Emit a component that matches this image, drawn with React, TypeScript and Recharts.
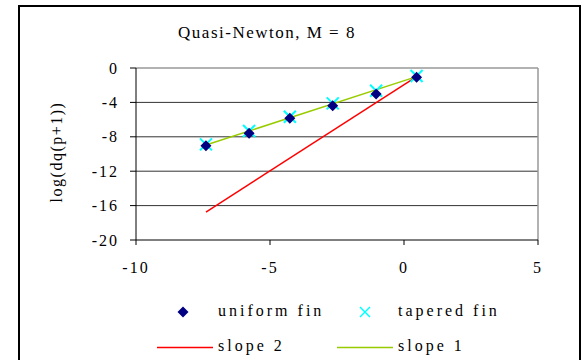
import React from 'react'
import { ComposedChart, Scatter, XAxis, YAxis, ReferenceLine } from 'recharts'

const xTicks = [-10, -5, 0, 5]
const yTicks = [0, -4, -8, -12, -16, -20]
const gridLevels = [-4, -8, -12, -16]

const xValues = [-7.39, -5.78, -4.26, -2.66, -1.04, 0.47]
const uniformFin = [-9.03, -7.6, -5.85, -4.38, -3.02, -1.08]
const taperedFin = [-8.88, -7.33, -5.66, -4.11, -2.64, -0.93]

const slope1X = [-7.39, 0.47]
const slope1Y = [-8.95, -1.0]
const slope2X = [-7.39, 0.47]
const slope2Y = [-16.75, -1.0]

const FONT = 'Liberation Serif'

const toPoints = (xs: number[], ys: number[]) => xs.map((x, i) => ({ x, y: ys[i] }))

const uniformData = toPoints(xValues, uniformFin)
const taperedData = toPoints(xValues, taperedFin)
const slope1Data = toPoints(slope1X, slope1Y)
const slope2Data = toPoints(slope2X, slope2Y)

const Diamond = ({ cx, cy }: any) => {
  if (cx == null || cy == null) return <g />
  const r = 5.5
  return <polygon points={`${cx},${cy - r} ${cx + r},${cy} ${cx},${cy + r} ${cx - r},${cy}`} fill='#000080' />
}

const Cross = ({ cx, cy }: any) => {
  if (cx == null || cy == null) return <g />
  const r = 6
  return (
    <g stroke='#00ffff' strokeWidth={2}>
      <line x1={cx - r} y1={cy - r} x2={cx + r} y2={cy + r} />
      <line x1={cx - r} y1={cy + r} x2={cx + r} y2={cy - r} />
    </g>
  )
}

const NoDot = () => <g />

const YLabel = ({ viewBox }: any) => {
  const cx = 58
  const cy = viewBox.y + viewBox.height / 2 - 2
  return (
    <text x={cx} y={cy} transform={`rotate(-90 ${cx} ${cy})`} textAnchor='middle' dominantBaseline='middle'
      style={{ fontFamily: FONT, fontSize: 16, letterSpacing: 1.5 }} fill='#000'>
      log(dq(p+1))
    </text>
  )
}

const legendText: React.CSSProperties = {
  position: 'absolute', fontFamily: FONT, fontSize: 16, letterSpacing: 3, lineHeight: '18px', whiteSpace: 'nowrap',
}

const ChartLegend = () => (
  <div style={{ position: 'absolute', left: 0, top: 0 }}>
    <svg style={{ position: 'absolute', left: 176, top: 305 }} width={14} height={14}>
      <polygon points='7,1.5 12.5,7 7,12.5 1.5,7' fill='#000080' />
    </svg>
    <div style={{ ...legendText, left: 218, top: 302 }}>uniform fin</div>
    <svg style={{ position: 'absolute', left: 358, top: 305 }} width={14} height={14}>
      <g stroke='#00ffff' strokeWidth={1.5}>
        <line x1={2} y1={2} x2={12} y2={12} />
        <line x1={2} y1={12} x2={12} y2={2} />
      </g>
    </svg>
    <div style={{ ...legendText, left: 398, top: 302 }}>tapered fin</div>
    <svg style={{ position: 'absolute', left: 157, top: 346 }} width={56} height={3}>
      <line x1={0} y1={1.5} x2={56} y2={1.5} stroke='#ff0000' strokeWidth={1.5} />
    </svg>
    <div style={{ ...legendText, left: 218, top: 337 }}>slope 2</div>
    <svg style={{ position: 'absolute', left: 337, top: 346 }} width={56} height={3}>
      <line x1={0} y1={1.5} x2={56} y2={1.5} stroke='#99cc00' strokeWidth={1.5} />
    </svg>
    <div style={{ ...legendText, left: 398, top: 337 }}>slope 1</div>
  </div>
)

export default function App() {
  const tickStyle = { fontFamily: FONT, fontSize: 16, fill: '#000', letterSpacing: 2 }
  return (
    <div style={{ position: 'absolute', left: 0, top: 0, width: 581, height: 360, overflow: 'hidden', background: '#fff', fontFamily: FONT }}>
      <div style={{ position: 'absolute', left: 18, top: 5, width: 559, height: 400, border: '2px solid #000', boxSizing: 'content-box' }} />
      <div style={{ position: 'absolute', left: 0, top: 23, width: 534, textAlign: 'center', fontFamily: FONT, fontSize: 17, letterSpacing: 1.5, whiteSpace: 'nowrap' }}>
        Quasi-Newton, M = 8
      </div>
      <ComposedChart width={581} height={360} margin={{ top: 68, right: 43, bottom: 90, left: 0 }} style={{ position: 'absolute', left: 0, top: 0, fontFamily: FONT }}>
        <XAxis type='number' dataKey='x' domain={[-10, 5]} ticks={xTicks} allowDataOverflow height={30}
          axisLine={{ stroke: '#000' }} tickLine={{ stroke: '#000' }} tickSize={5} tickMargin={17} tick={tickStyle} />
        <YAxis type='number' dataKey='y' domain={[-20, 0]} ticks={yTicks} allowDataOverflow width={136}
          axisLine={{ stroke: '#000' }} tickLine={{ stroke: '#000' }} tickSize={6} tickMargin={11} tick={tickStyle}
          label={<YLabel />} />
        {gridLevels.map(v => (
          <ReferenceLine key={v} y={v} stroke='#333' strokeWidth={1} />
        ))}
        <ReferenceLine y={0} stroke='#999' strokeWidth={1.5} />
        <ReferenceLine x={5} stroke='#999' strokeWidth={1.5} />
        <Scatter name='slope 2' data={slope2Data} line={{ stroke: '#ff0000', strokeWidth: 1.5 }} shape={NoDot} isAnimationActive={false} />
        <Scatter name='slope 1' data={slope1Data} line={{ stroke: '#99cc00', strokeWidth: 1.5 }} shape={NoDot} isAnimationActive={false} />
        <Scatter name='tapered fin' data={taperedData} shape={Cross} isAnimationActive={false} />
        <Scatter name='uniform fin' data={uniformData} shape={Diamond} isAnimationActive={false} />
      </ComposedChart>
      <ChartLegend />
    </div>
  )
}
